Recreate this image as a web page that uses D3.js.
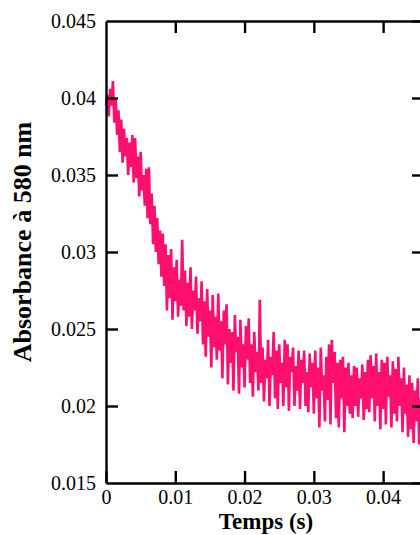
<!DOCTYPE html>
<html>
<head>
<meta charset="utf-8">
<script src="https://cdn.jsdelivr.net/npm/d3@7"></script>
<style>
  html, body { margin: 0; padding: 0; background: #fff; }
  svg { display: block; }
</style>
</head>
<body>
<svg id="chart" width="420" height="535"></svg>
<script>
// ---- data ----
const sampleInterval = 0.0002; // s between acquisitions
const absorbance = [
  0.0395, 0.0402, 0.0388, 0.0406, 0.0395, 0.0411, 0.0384, 0.0400, 0.0376, 0.0392,
  0.0365, 0.0386, 0.0358, 0.0380, 0.0362, 0.0374, 0.0350, 0.0371, 0.0355, 0.0376,
  0.0345, 0.0374, 0.0348, 0.0362, 0.0336, 0.0365, 0.0340, 0.0350, 0.0330, 0.0354,
  0.0322, 0.0355, 0.0318, 0.0338, 0.0305, 0.0330, 0.0300, 0.0322, 0.0292, 0.0314,
  0.0284, 0.0312, 0.0278, 0.0305, 0.0262, 0.0298, 0.0270, 0.0302, 0.0256, 0.0290,
  0.0268, 0.0295, 0.0258, 0.0282, 0.0265, 0.0308, 0.0262, 0.0288, 0.0252, 0.0280,
  0.0258, 0.0290, 0.0250, 0.0275, 0.0262, 0.0284, 0.0247, 0.0270, 0.0255, 0.0281,
  0.0240, 0.0268, 0.0232, 0.0276, 0.0245, 0.0262, 0.0225, 0.0272, 0.0238, 0.0258,
  0.0230, 0.0273, 0.0236, 0.0255, 0.0218, 0.0262, 0.0240, 0.0266, 0.0214, 0.0250,
  0.0228, 0.0248, 0.0210, 0.0259, 0.0235, 0.0245, 0.0208, 0.0256, 0.0225, 0.0240,
  0.0212, 0.0252, 0.0230, 0.0257, 0.0215, 0.0240, 0.0206, 0.0248, 0.0222, 0.0235,
  0.0210, 0.0269, 0.0215, 0.0238, 0.0203, 0.0230, 0.0218, 0.0243, 0.0200, 0.0232,
  0.0220, 0.0248, 0.0205, 0.0236, 0.0198, 0.0240, 0.0215, 0.0228, 0.0200, 0.0243,
  0.0212, 0.0240, 0.0197, 0.0232, 0.0222, 0.0238, 0.0200, 0.0226, 0.0210, 0.0236,
  0.0198, 0.0230, 0.0215, 0.0236, 0.0200, 0.0222, 0.0196, 0.0234, 0.0212, 0.0228,
  0.0195, 0.0236, 0.0205, 0.0225, 0.0186, 0.0238, 0.0210, 0.0220, 0.0190, 0.0232,
  0.0204, 0.0240, 0.0188, 0.0243, 0.0215, 0.0235, 0.0192, 0.0228, 0.0186, 0.0230,
  0.0205, 0.0232, 0.0183, 0.0225, 0.0200, 0.0228, 0.0195, 0.0220, 0.0192, 0.0226,
  0.0200, 0.0225, 0.0193, 0.0218, 0.0205, 0.0227, 0.0191, 0.0222, 0.0198, 0.0230,
  0.0196, 0.0233, 0.0205, 0.0226, 0.0190, 0.0234, 0.0200, 0.0222, 0.0185, 0.0230,
  0.0198, 0.0228, 0.0188, 0.0232, 0.0206, 0.0220, 0.0186, 0.0229, 0.0195, 0.0224,
  0.0190, 0.0232, 0.0200, 0.0218, 0.0183, 0.0225, 0.0195, 0.0214, 0.0180, 0.0220,
  0.0185, 0.0215, 0.0176, 0.0210, 0.0190, 0.0218, 0.0175, 0.0205, 0.0180, 0.0212
];
const xTicks = [0, 0.01, 0.02, 0.03, 0.04];
const xTickLabels = ["0", "0.01", "0.02", "0.03", "0.04"];
const yTicks = [0.015, 0.02, 0.025, 0.03, 0.035, 0.04, 0.045];
const yTickLabels = ["0.015", "0.02", "0.025", "0.03", "0.035", "0.04", "0.045"];
const xTitle = "Temps (s)";
const yTitle = "Absorbance à 580 nm";

// ---- layout ----
const L = 106, R = 424, T = 21, B = 483;
const svg = d3.select("#chart");
const x = d3.scaleLinear().domain([0, 0.0459]).range([L, R]);
const y = d3.scaleLinear().domain([0.015, 0.045]).range([B, T]);
const points = absorbance.map((v, i) => [i * sampleInterval, v]);

// trace
svg.append("path")
  .datum(points)
  .attr("fill", "none")
  .attr("stroke", "#ff0f6e")
  .attr("stroke-width", 2.6)
  .attr("stroke-linejoin", "miter")
  .attr("d", d3.line().x(d => x(d[0])).y(d => y(d[1])));

const tickLen = 12;
const font = "'Liberation Serif', 'Times New Roman', serif";

function styleAxis(g) {
  g.selectAll(".domain").attr("stroke", "#000").attr("stroke-width", 2.4);
  g.selectAll(".tick line").attr("stroke", "#000").attr("stroke-width", 2.4);
  g.selectAll(".tick text").attr("font-family", font).attr("font-size", 20).attr("fill", "#000");
}

// bottom
const gB = svg.append("g").attr("transform", `translate(0,${B})`)
  .call(d3.axisBottom(x).tickValues(xTicks).tickFormat((d, i) => xTickLabels[i])
    .tickSizeInner(-tickLen).tickSizeOuter(0).tickPadding(7));
styleAxis(gB);
// top
const gT = svg.append("g").attr("transform", `translate(0,${T})`)
  .call(d3.axisTop(x).tickValues(xTicks.filter(d => d > 0)).tickFormat("")
    .tickSizeInner(-tickLen).tickSizeOuter(0));
styleAxis(gT);
// left
const gL = svg.append("g").attr("transform", `translate(${L},0)`)
  .call(d3.axisLeft(y).tickValues(yTicks).tickFormat((d, i) => yTickLabels[i])
    .tickSizeInner(-tickLen).tickSizeOuter(0).tickPadding(10));
styleAxis(gL);
gL.selectAll(".tick line").filter(d => d === 0.015 || d === 0.045).attr("stroke", "none");
// right
const gR = svg.append("g").attr("transform", `translate(${R},0)`)
  .call(d3.axisRight(y).tickValues(yTicks).tickFormat("")
    .tickSizeInner(-tickLen).tickSizeOuter(0));
styleAxis(gR);

// titles
svg.append("text")
  .attr("x", 266).attr("y", 529)
  .attr("text-anchor", "middle")
  .attr("font-family", font).attr("font-weight", "bold").attr("font-size", 23)
  .text(xTitle);
svg.append("text")
  .attr("transform", "translate(31,242) rotate(-90)")
  .attr("text-anchor", "middle")
  .attr("font-family", font).attr("font-weight", "bold").attr("font-size", 26)
  .text(yTitle);
</script>
</body>
</html>
